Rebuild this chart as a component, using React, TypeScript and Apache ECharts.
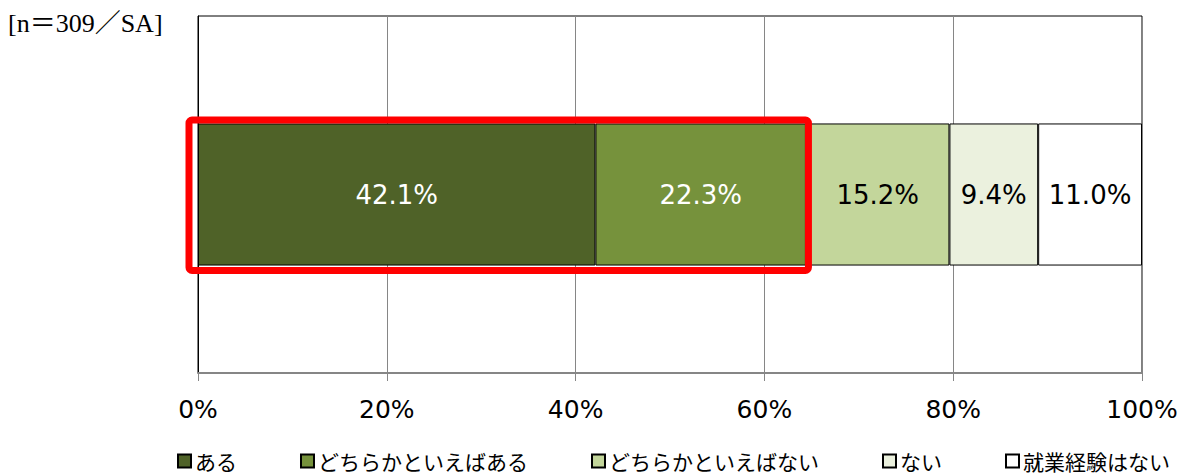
import React, { useEffect, useRef } from "react";
import * as echarts from "echarts";

const categories = ["全体"];
const seriesNames = ["ある", "どちらかといえばある", "どちらかといえばない", "ない", "就業経験はない"];
const seriesValues = [42.1, 22.3, 15.2, 9.4, 11.0];
const seriesColors = ["#4F6228", "#76923C", "#C3D69B", "#EBF1DE", "#FFFFFF"];
const labelColors = ["#FFFFFF", "#FFFFFF", "#000000", "#000000", "#000000"];
const xTicks = [0, 20, 40, 60, 80, 100];
const highlightCount = 2; // first two segments are framed in red
const noteText = "[n＝309／SA]";

export default function App() {
  const ref = useRef<HTMLDivElement>(null);

  useEffect(() => {
    if (!ref.current) return;
    const chart = echarts.init(ref.current, undefined, { renderer: "svg" });
    const valueFont = "DejaVu Sans, Verdana, sans-serif";

    const option: any = {
      animation: false,
      backgroundColor: "#FFFFFF",
      grid: {
        left: 198,
        right: 62,
        top: 16,
        bottom: 102,
        show: true,
        borderColor: "#000000",
        borderWidth: 1,
        backgroundColor: "transparent",
      },
      legend: {
        left: 177,
        top: 450,
        padding: 0,
        width: 1100,
        itemWidth: 13,
        itemHeight: 13,
        itemGap: 63,
        icon: "rect",
        textStyle: {
          fontFamily: "Noto Sans CJK JP",
          fontSize: 21,
          lineHeight: 22,
          color: "#000000",
          padding: [0, 0, 0, -1],
        },
        data: seriesNames,
      },
      xAxis: {
        type: "value",
        min: xTicks[0],
        max: xTicks[xTicks.length - 1],
        interval: xTicks[1] - xTicks[0],
        axisLine: { show: true, lineStyle: { color: "#868686", width: 2 } },
        axisTick: { show: true, length: 8, lineStyle: { color: "#868686", width: 1 } },
        splitLine: { show: true, lineStyle: { color: "#868686", width: 1 } },
        axisLabel: {
          formatter: "{value}%",
          fontFamily: valueFont,
          fontSize: 25,
          color: "#000000",
          margin: 24,
        },
      },
      yAxis: {
        type: "category",
        data: categories,
        axisLine: { show: true, lineStyle: { color: "#000000", width: 1 } },
        axisTick: { show: false },
        axisLabel: { show: false },
        splitLine: { show: false },
      },
      series: seriesNames.map((name, i) => ({
        name,
        type: "bar",
        stack: "total",
        barWidth: "39.8%",
        data: [seriesValues[i]],
        itemStyle: { color: seriesColors[i], borderColor: "#000000", borderWidth: 1 },
        label: {
          show: true,
          position: "inside",
          formatter: (p: any) => `${Number(p.value).toFixed(1)}%`,
          fontFamily: valueFont,
          fontSize: 26,
          color: labelColors[i],
        },
      })),
      graphic: [
        {
          type: "text",
          left: 8,
          top: 10,
          style: {
            text: noteText,
            fontFamily: "Liberation Serif, Noto Sans CJK JP, serif",
            fontSize: 26,
            fill: "#000000",
          },
        },
      ],
    };

    chart.setOption(option);

    // Red frame around the first two segments, computed through the axes
    const sumHighlight = seriesValues.slice(0, highlightCount).reduce((a, b) => a + b, 0);
    const p0 = chart.convertToPixel({ gridIndex: 0 }, [0, 0]) as number[];
    const p1 = chart.convertToPixel({ gridIndex: 0 }, [sumHighlight, 0]) as number[];
    const yMid = chart.convertToPixel({ gridIndex: 0 }, [0, categories[0]]) as number[];
    const halfBar = 71;
    chart.setOption({
      graphic: [
        option.graphic[0],
        {
          type: "rect",
          z: 100,
          shape: {
            x: p0[0] - 9,
            y: yMid[1] - halfBar - 3.5,
            width: p1[0] - p0[0] + 11.5,
            height: halfBar * 2 + 8.5,
            r: 3,
          },
          style: { fill: "none", stroke: "#FF0000", lineWidth: 7 },
        },
      ],
    });

    return () => chart.dispose();
  }, []);

  return (
    <div
      ref={ref}
      style={{ position: "fixed", left: 0, top: 0, width: 1204, height: 475 }}
    />
  );
}
